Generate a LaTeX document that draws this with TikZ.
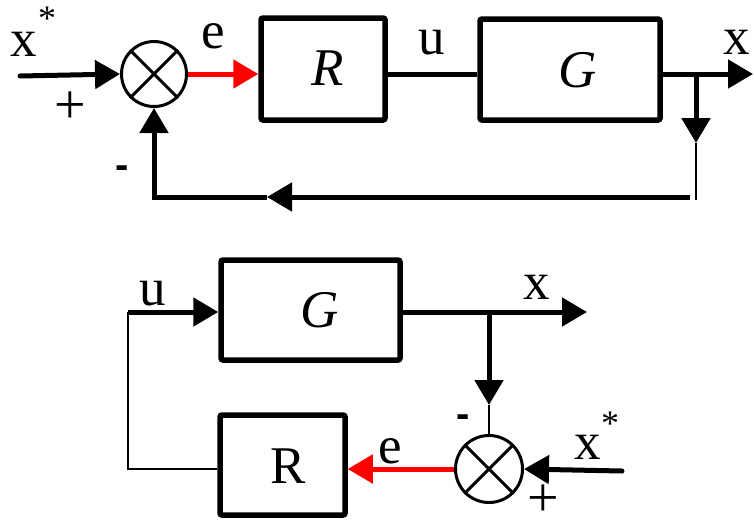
\documentclass[tikz,border=0pt]{standalone}
\usepackage{fontspec}
\setmainfont{Liberation Serif}
\setsansfont{Liberation Sans}
\usetikzlibrary{arrows.meta}
\tikzset{
  blk/.style={draw, line width=5.5pt, rounded corners=2pt, inner sep=0pt},
  sumc/.style={draw, circle, line width=3pt, inner sep=0pt, minimum size=#1},
  wire/.style={line width=5pt},
  thinwire/.style={line width=2pt},
  redwire/.style={line width=5pt, red},
  tip/.style={-{Triangle[length=25pt,width=28pt]}},
  lbl/.style={font=\fontsize{53}{56}\selectfont, inner sep=0pt},
  star/.style={font=\fontsize{36}{40}\selectfont, inner sep=0pt},
  sgn/.style={font=\fontsize{56}{60}\selectfont, inner sep=0pt},
  minus/.style={font=\sffamily\bfseries\fontsize{40}{44}\selectfont, inner sep=0pt},
}
\begin{document}
\begin{tikzpicture}[x=1pt,y=-1pt]
\useasboundingbox (0,0) rectangle (754,528);
% ---------- top diagram ----------
\node[sumc=65pt] (s1) at (154,74) {};
\draw[line width=3pt] (s1.north west) -- (s1.south east) (s1.north east) -- (s1.south west);
\node[blk, minimum width=124pt, minimum height=102pt] (R1) at (323,69) {};
\node[lbl] (R1l) at (328,68) {\itshape R};
\node[blk, minimum width=180pt, minimum height=101pt] (G1) at (570,69.5) {};
\node[lbl] (G1l) at (578,70) {\itshape G};
\coordinate (in1) at (20,76);
\coordinate (out1) at (753,74);
\coordinate (b1) at (696,74);
\coordinate (t1) at (696,143);
\coordinate (c1) at (696,200);
\coordinate (c2) at (690,197);
\coordinate (m1) at (267,197);
\draw[wire, tip, line cap=round] (in1) -- (s1.west);
\draw[redwire, tip] (s1.east) -- (s1.east -| R1.west);
\draw[wire] (R1.east |- s1) -- (G1.west |- s1);
\draw[wire, tip] (G1.east |- s1) -- (out1);
\draw[wire, tip] (b1) -- (t1);
\draw[thinwire] (t1) -- (c1);
\draw[wire, tip] (c2) -- (m1);
\draw[wire, tip] (m1) -- (s1 |- m1) -- (s1.south);
\node[lbl] (x1) at (24,44) {x};
\node[star] (x1s) at (47,19) {*};
\node[sgn] (p1) at (70,108) {+};
\node[minus] (n1) at (122,172) {-};
\node[lbl] (e1) at (213,36) {e};
\node[lbl] (u1) at (432,43) {u};
\node[lbl] (xo1) at (737,42) {x};
% ---------- bottom diagram ----------
\node[sumc=67pt] (s2) at (489,469) {};
\draw[line width=3pt] (s2.north west) -- (s2.south east) (s2.north east) -- (s2.south west);
\node[blk, minimum width=179pt, minimum height=100pt] (G2) at (310.5,310) {};
\node[lbl] (G2l) at (320,310) {\itshape G};
\node[blk, minimum width=125pt, minimum height=100pt] (R2) at (282.5,465) {};
\node[lbl] (R2l) at (288,466) {R};
\coordinate (u2) at (128,312);
\coordinate (o2) at (587,312);
\coordinate (b2) at (489,312);
\coordinate (t2) at (489,405);
\coordinate (i2) at (622,471);
\draw[thinwire] (R2.west |- s2) -- (u2 |- s2) -- (u2);
\draw[wire, tip] (u2) -- (G2.west |- u2);
\draw[redwire, tip] (s2.west) -- (R2.east |- s2);
\draw[wire, tip] (G2.east |- o2) -- (o2);
\draw[wire, tip] (b2) -- (t2);
\draw[thinwire] (t2) -- (s2.north);
\draw[wire, tip, line cap=round] (i2) -- (s2.east);
\node[lbl] (u2l) at (153,294) {u};
\node[lbl] (e2) at (390,451) {e};
\node[lbl] (xo2) at (537,287) {x};
\node[minus] (n2) at (463,421) {-};
\node[lbl] (x2) at (588,447) {x};
\node[star] (x2s) at (610,424) {*};
\node[sgn] (p2) at (543,501) {+};
\end{tikzpicture}
\end{document}
